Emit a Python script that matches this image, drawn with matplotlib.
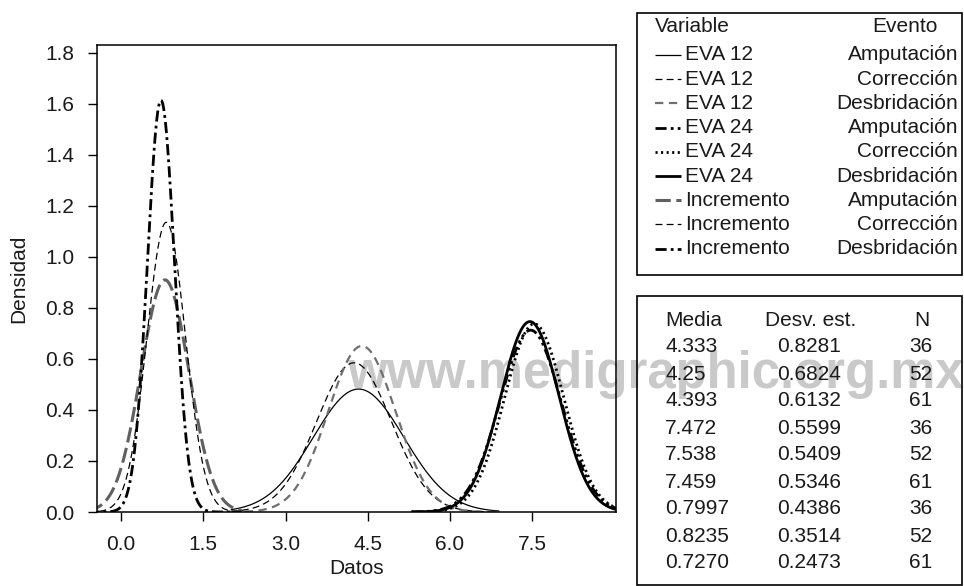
import numpy as np
import matplotlib
matplotlib.use('Agg')
import matplotlib.pyplot as plt
from matplotlib.patches import Rectangle

plt.rcParams['font.family'] = ['Liberation Sans', 'DejaVu Sans']
plt.rcParams['lines.scale_dashes'] = False

# ---------------- data ----------------
variables = ['EVA 12', 'EVA 12', 'EVA 12', 'EVA 24', 'EVA 24', 'EVA 24',
             'Incremento', 'Incremento', 'Incremento']
eventos = ['Amputación', 'Corrección', 'Desbridación'] * 3
medias = [4.333, 4.25, 4.393, 7.472, 7.538, 7.459, 0.7997, 0.8235, 0.7270]
medias_txt = ['4.333', '4.25', '4.393', '7.472', '7.538', '7.459', '0.7997', '0.8235', '0.7270']
desv = [0.8281, 0.6824, 0.6132, 0.5599, 0.5409, 0.5346, 0.4386, 0.3514, 0.2473]
desv_txt = ['0.8281', '0.6824', '0.6132', '0.5599', '0.5409', '0.5346', '0.4386', '0.3514', '0.2473']
n_obs = [36, 52, 61, 36, 52, 61, 36, 52, 61]
rango_min = {'EVA 12': 2.0, 'EVA 24': 5.3, 'Incremento': -0.6}
rango_max = {'EVA 12': 6.9, 'EVA 24': 9.2, 'Incremento': 2.2}
x_ticks = [0.0, 1.5, 3.0, 4.5, 6.0, 7.5]
y_ticks = [0.0, 0.2, 0.4, 0.6, 0.8, 1.0, 1.2, 1.4, 1.6, 1.8]

# ---------------- styles ----------------
styles = [
    dict(color='black', lw=0.9, dashes=None),
    dict(color='black', lw=0.9, dashes=(5, 3)),
    dict(color='#707070', lw=1.6, dashes=(6, 4)),
    dict(color='black', lw=2.0, dashes=(8, 3, 2, 3, 2, 3)),
    dict(color='black', lw=2.0, dashes=(1.5, 2.5)),
    dict(color='black', lw=2.0, dashes=None),
    dict(color='#606060', lw=2.2, dashes=(11, 4)),
    dict(color='black', lw=0.9, dashes=(5, 3)),
    dict(color='black', lw=2.0, dashes=(8, 3, 2, 3)),
]

W, H = 964, 586
fig = plt.figure(figsize=(W / 100, H / 100), dpi=100)
FS = 15
TXT = '#1a1a1a'

# watermark (behind everything)
fig.text(347 / W, 1 - 388 / H, 'www.medigraphic.org.mx', fontsize=36.5, fontweight='bold',
         color='#c9c9c9', ha='left', va='baseline', zorder=-5)

ax = fig.add_axes([97 / W, 1 - 512 / H, (616 - 97) / W, (512 - 45) / H])
ax.set_facecolor('none')


def pdf(x, m, s):
    return np.exp(-0.5 * ((x - m) / s) ** 2) / (s * np.sqrt(2 * np.pi))


for v, m, s, st in zip(variables, medias, desv, styles):
    x = np.linspace(rango_min[v], rango_max[v], 600)
    ln, = ax.plot(x, pdf(x, m, s), color=st['color'], lw=st['lw'], solid_capstyle='butt')
    if st['dashes'] is not None:
        ln.set_dashes(st['dashes'])

ax.set_xlim(-0.44, 9.03)
ax.set_ylim(0, 1.83)
ax.set_xticks(x_ticks)
ax.set_xticklabels([f'{t:.1f}' for t in x_ticks])
ax.set_yticks(y_ticks)
ax.set_yticklabels([f'{t:.1f}' for t in y_ticks])
ax.tick_params(direction='out', length=6.5, width=1, labelsize=FS, labelcolor=TXT, pad=10)
for sp in ax.spines.values():
    sp.set_linewidth(1.1)
ax.set_xlabel('Datos', fontsize=FS, color=TXT, labelpad=4)
ax.set_ylabel('Densidad', fontsize=FS, color=TXT, labelpad=12)

# ---------------- legend box ----------------
lax = fig.add_axes([0, 0, 1, 1])
lax.set_xlim(0, W)
lax.set_ylim(H, 0)
lax.axis('off')
lax.set_facecolor('none')
lax.add_patch(Rectangle((637, 13), 325, 262, fill=False, lw=1.2, ec='black'))
lax.text(655, 27, 'Variable', fontsize=FS, color=TXT, ha='left', va='center')
lax.text(938, 27, 'Evento', fontsize=FS, color=TXT, ha='right', va='center')
for i, (v, e, st) in enumerate(zip(variables, eventos, styles)):
    y = 55 + 24.2 * i
    ln, = lax.plot([655, 681], [y, y], color=st['color'], lw=st['lw'], solid_capstyle='butt')
    if st['dashes'] is not None:
        ln.set_dashes(st['dashes'])
    lax.text(685, y, v, fontsize=FS, color=TXT, ha='left', va='center')
    lax.text(958, y, e, fontsize=FS, color=TXT, ha='right', va='center')

# ---------------- statistics table ----------------
lax.add_patch(Rectangle((637, 296), 325, 289, fill=False, lw=1.2, ec='black'))
lax.text(665, 320, 'Media', fontsize=FS, color=TXT, ha='left', va='center')
lax.text(811, 320, 'Desv. est.', fontsize=FS, color=TXT, ha='center', va='center')
lax.text(922, 320, 'N', fontsize=FS, color=TXT, ha='center', va='center')
for i, (m, s, k) in enumerate(zip(medias_txt, desv_txt, n_obs)):
    y = 347 + 27 * i
    lax.text(665, y, m, fontsize=FS, color=TXT, ha='left', va='center')
    lax.text(809, y, s, fontsize=FS, color=TXT, ha='center', va='center')
    lax.text(921, y, str(k), fontsize=FS, color=TXT, ha='center', va='center')

fig.savefig('out.png', dpi=100)
